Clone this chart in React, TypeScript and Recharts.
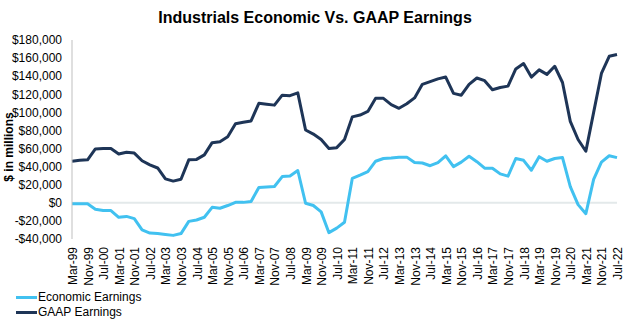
import React from 'react';
import { LineChart, Line, XAxis, YAxis, ReferenceLine, Legend } from 'recharts';

const periods = [
  'Mar-99', 'Jul-99', 'Nov-99', 'Mar-00', 'Jul-00', 'Nov-00', 'Mar-01', 'Jul-01', 'Nov-01',
  'Mar-02', 'Jul-02', 'Nov-02', 'Mar-03', 'Jul-03', 'Nov-03', 'Mar-04', 'Jul-04', 'Nov-04',
  'Mar-05', 'Jul-05', 'Nov-05', 'Mar-06', 'Jul-06', 'Nov-06', 'Mar-07', 'Jul-07', 'Nov-07',
  'Mar-08', 'Jul-08', 'Nov-08', 'Mar-09', 'Jul-09', 'Nov-09', 'Mar-10', 'Jul-10', 'Nov-10',
  'Mar-11', 'Jul-11', 'Nov-11', 'Mar-12', 'Jul-12', 'Nov-12', 'Mar-13', 'Jul-13', 'Nov-13',
  'Mar-14', 'Jul-14', 'Nov-14', 'Mar-15', 'Jul-15', 'Nov-15', 'Mar-16', 'Jul-16', 'Nov-16',
  'Mar-17', 'Jul-17', 'Nov-17', 'Mar-18', 'Jul-18', 'Nov-18', 'Mar-19', 'Jul-19', 'Nov-19',
  'Mar-20', 'Jul-20', 'Nov-20', 'Mar-21', 'Jul-21', 'Nov-21', 'Mar-22', 'Jul-22',
];

const economicEarnings = [
  -1000, -1000, -1000, -7000, -8500, -8500, -16000, -15000, -17500, -30000,
  -33500, -34000, -35000, -36000, -34000, -20500, -19000, -16000, -5000, -6000,
  -3000, 500, 500, 1500, 17000, 17500, 18000, 29000, 29700, 35700,
  -500, -3000, -10000, -33000, -28000, -21500, 27000, 30500, 34500, 46000,
  49000, 49500, 50500, 50500, 44500, 44000, 41000, 44500, 52000, 40000,
  45000, 51500, 45500, 38300, 38300, 32000, 29500, 49000, 47000, 36000,
  51000, 46000, 49000, 50000, 18000, -2000, -12000, 26000, 45000, 52000, 50000,
];

const gaapEarnings = [
  46000, 47000, 47500, 59500, 60000, 60000, 54000, 56000, 55000, 46500,
  42000, 38500, 26500, 24000, 26000, 47500, 48000, 53000, 66500, 67500,
  73000, 87500, 89000, 90500, 110000, 109000, 108000, 119000, 118500, 121500,
  80500, 76000, 70000, 60000, 61000, 70000, 95000, 97000, 101000, 115500,
  115500, 108500, 104500, 109500, 116000, 131000, 134000, 137000, 139000, 121000,
  119000, 131000, 138000, 135000, 125000, 127500, 129000, 148000, 154000, 139000,
  147000, 142000, 151000, 133000, 90000, 70000, 57000, 100000, 143000, 162000, 164000,
];

const yTicks = [-40000, -20000, 0, 20000, 40000, 60000, 80000, 100000, 120000, 140000, 160000, 180000];

const ECON_COLOR = '#41C1F0';
const GAAP_COLOR = '#1E3557';
const FONT = '"Liberation Sans", Arial, sans-serif';

const data = periods.map((p, i) => ({
  period: p,
  economic: economicEarnings[i],
  gaap: gaapEarnings[i],
}));

const formatMoney = (v: number) =>
  v < 0 ? `-$${Math.abs(v).toLocaleString('en-US')}` : `$${v.toLocaleString('en-US')}`;

const XTick = (props: any) => {
  const { x, y, payload } = props;
  return (
    <text
      x={x + 1}
      y={y}
      transform={`rotate(-90, ${x + 1}, ${y})`}
      textAnchor="end"
      dominantBaseline="central"
      fontSize={12}
      fill="#000"
      fontFamily={FONT}
    >
      {payload.value}
    </text>
  );
};

const legendItems = [
  { label: 'Economic Earnings', color: ECON_COLOR },
  { label: 'GAAP Earnings', color: GAAP_COLOR },
];

const LegendContent = () => (
  <div style={{ paddingTop: 5, fontFamily: FONT, fontSize: 12, color: '#000' }}>
    {legendItems.map((it) => (
      <div key={it.label} style={{ display: 'flex', alignItems: 'center', height: 15, lineHeight: '15px' }}>
        <svg width={21} height={15} style={{ display: 'block' }}>
          <line x1={0} y1={7.5} x2={21} y2={7.5} stroke={it.color} strokeWidth={3} />
        </svg>
        <span style={{ marginLeft: 1, whiteSpace: 'nowrap' }}>{it.label}</span>
      </div>
    ))}
  </div>
);

export default function App() {
  return (
    <div style={{ position: 'absolute', left: 0, top: 0, width: 630, height: 321, background: '#fff', fontFamily: FONT }}>
      <div
        style={{
          position: 'absolute',
          left: 0,
          top: 9,
          width: 630,
          textAlign: 'center',
          fontWeight: 'bold',
          fontSize: 16,
          lineHeight: '18px',
          color: '#000',
          fontFamily: FONT,
        }}
      >
        Industrials Economic Vs. GAAP Earnings
      </div>
      <LineChart width={630} height={321} data={data} margin={{ top: 40, right: 13, left: 0, bottom: 0 }}>
        <XAxis
          dataKey="period"
          interval={1}
          axisLine={false}
          tickLine={false}
          tickSize={0}
          tickMargin={8}
          height={46}
          tick={<XTick />}
        />
        <YAxis
          type="number"
          domain={[-40000, 180000]}
          ticks={yTicks}
          interval={0}
          width={72}
          tickFormatter={formatMoney}
          axisLine={{ stroke: '#BFBFBF', strokeWidth: 1 }}
          tickLine={false}
          tickSize={0}
          tickMargin={10}
          tick={{ fontSize: 12, fill: '#000', fontFamily: FONT }}
          label={{
            value: '$ in millions',
            content: () => (
              <text
                x={9}
                y={147}
                transform="rotate(-90, 9, 147)"
                textAnchor="middle"
                dominantBaseline="central"
                fontWeight="bold"
                fontSize={12}
                fill="#000"
                fontFamily={FONT}
              >
                $ in millions
              </text>
            ),
          }}
        />
        <ReferenceLine y={0} stroke="#E3E9EA" strokeWidth={2} />
        <Legend
          verticalAlign="bottom"
          align="left"
          layout="horizontal"
          wrapperStyle={{ left: 16, bottom: 0, height: 36, width: 300 }}
          content={<LegendContent />}
        />
        <Line
          type="linear"
          dataKey="gaap"
          name="GAAP Earnings"
          stroke={GAAP_COLOR}
          strokeWidth={3}
          strokeLinejoin="round"
          dot={false}
          activeDot={false}
          isAnimationActive={false}
        />
        <Line
          type="linear"
          dataKey="economic"
          name="Economic Earnings"
          stroke={ECON_COLOR}
          strokeWidth={3}
          strokeLinejoin="round"
          dot={false}
          activeDot={false}
          isAnimationActive={false}
        />
      </LineChart>
    </div>
  );
}
